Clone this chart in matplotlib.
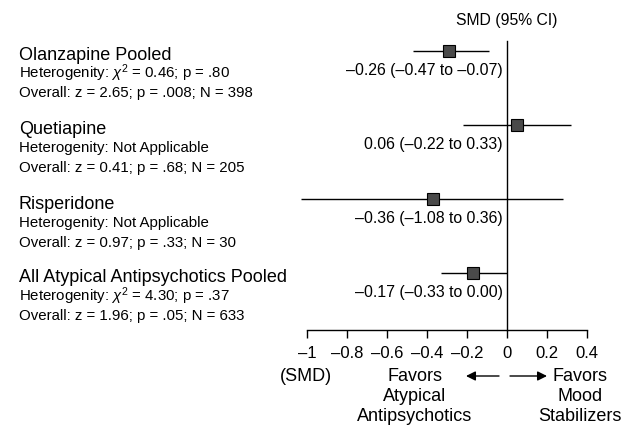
import matplotlib
matplotlib.use("Agg")
import matplotlib.pyplot as plt
from matplotlib.patches import FancyArrowPatch

plt.rcParams['font.family'] = ['Liberation Sans', 'DejaVu Sans']
plt.rcParams['mathtext.fontset'] = 'custom'
plt.rcParams['mathtext.rm'] = 'Liberation Sans'
plt.rcParams['mathtext.it'] = 'Liberation Sans:italic'

# ---- data ----
groups = ["Olanzapine Pooled", "Quetiapine", "Risperidone",
          "All Atypical Antipsychotics Pooled"]
heterogeneity = [r"Heterogenity: $\chi^2$ = 0.46; p = .80",
                 "Heterogenity: Not Applicable",
                 "Heterogenity: Not Applicable",
                 r"Heterogenity: $\chi^2$ = 4.30; p = .37"]
overall = ["Overall: z = 2.65; p = .008; N = 398",
           "Overall: z = 0.41; p = .68; N = 205",
           "Overall: z = 0.97; p = .33; N = 30",
           "Overall: z = 1.96; p = .05; N = 633"]
smd = [-0.29, 0.05, -0.37, -0.17]
ci_low = [-0.47, -0.22, -1.03, -0.33]
ci_high = [-0.09, 0.32, 0.28, 0.00]
ci_labels = ["–0.26 (–0.47 to –0.07)", "0.06 (–0.22 to 0.33)",
             "–0.36 (–1.08 to 0.36)", "–0.17 (–0.33 to 0.00)"]
xticks = [-1, -0.8, -0.6, -0.4, -0.2, 0, 0.2, 0.4]
xticklabels = ["–1", "–0.8", "–0.6", "–0.4", "–0.2", "0", "0.2", "0.4"]

W, H = 624, 427
fig = plt.figure(figsize=(W / 100, H / 100), dpi=100)

def fx(px):
    return px / W

def fy(py):
    return 1 - py / H

# axes: x=-1 at px 307, x=0.4 at px 587 ; top 42, bottom 331
ax = fig.add_axes([fx(307), fy(331), (587 - 307) / W, (331 - 42) / H])
ax.set_xlim(-1, 0.4)
row_y0, row_dy = 52, 74
ax.set_ylim((331 - row_y0) / row_dy, (42 - row_y0) / row_dy)
ax.patch.set_visible(False)
for s in ['top', 'right', 'left']:
    ax.spines[s].set_visible(False)
ax.spines['bottom'].set_linewidth(1.0)
ax.set_yticks([])
ax.set_xticks(xticks)
ax.set_xticklabels(xticklabels, fontsize=12)
ax.tick_params(axis='x', direction='out', length=6, width=1.0, pad=5)
ax.axvline(0, color='black', lw=1.0, clip_on=False)

for i in range(len(groups)):
    ax.plot([ci_low[i], ci_high[i]], [i, i], color='black', lw=1.0,
            solid_capstyle='butt', clip_on=False, zorder=2)
    ax.plot([smd[i]], [i], marker='s', markersize=8, color='#4a4a4a',
            markeredgecolor='black', markeredgewidth=0.8, clip_on=False,
            zorder=3)
    ax.text(-0.02, i + 0.25, ci_labels[i], ha='right', va='center',
            fontsize=11.4)

ax.text(0, -0.42, "SMD (95% CI)", ha='center', va='center', fontsize=11.3)

# left text blocks
title_y = [55, 130, 205, 278]
for i in range(len(groups)):
    y = title_y[i]
    fig.text(fx(19), fy(y), groups[i], ha='left', va='center', fontsize=13)
    fig.text(fx(19), fy(y + 18), heterogeneity[i], ha='left', va='center',
             fontsize=10.8)
    fig.text(fx(19), fy(y + 38), overall[i], ha='left', va='center',
             fontsize=10.8)

# bottom annotations
fig.text(fx(280), fy(377), "(SMD)", ha='left', va='center', fontsize=13)
fig.text(fx(415), fy(368), "Favors\nAtypical\nAntipsychotics", ha='center',
         va='top', fontsize=13, linespacing=1.22)
fig.text(fx(580), fy(368), "Favors\nMood\nStabilizers", ha='center',
         va='top', fontsize=13, linespacing=1.22)
a1 = FancyArrowPatch((fx(499), fy(377)), (fx(466), fy(377)),
                     transform=fig.transFigure, arrowstyle='-|>',
                     mutation_scale=14, color='black', lw=1.0,
                     shrinkA=0, shrinkB=0)
a2 = FancyArrowPatch((fx(510), fy(377)), (fx(547), fy(377)),
                     transform=fig.transFigure, arrowstyle='-|>',
                     mutation_scale=14, color='black', lw=1.0,
                     shrinkA=0, shrinkB=0)
fig.patches.extend([a1, a2])

fig.savefig("out.png", dpi=100)
